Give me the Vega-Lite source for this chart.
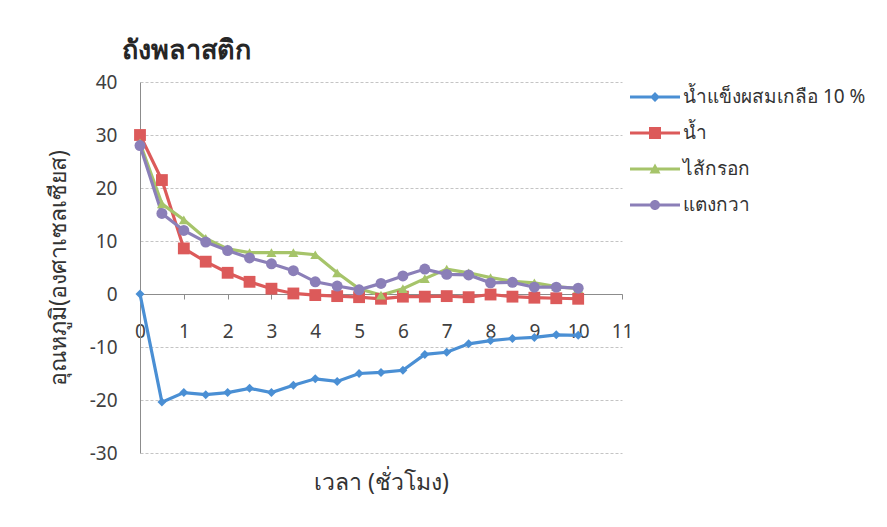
{
  "$schema": "https://vega.github.io/schema/vega-lite/v6.json",
  "width": 482,
  "height": 371,
  "autosize": {"type": "none"},
  "padding": {"left": 140, "top": 82, "right": 265, "bottom": 74},
  "background": "white",
  "title": {"text": "ถังพลาสติก", "anchor": "start", "frame": "group", "dx": -18, "offset": 8, "fontSize": 27, "fontWeight": "bold", "color": "#262626"},
  "config": {
    "view": {"stroke": null},
    "font": "Noto Sans, DejaVu Sans, sans-serif",
    "legend": {"title": null, "orient": "right", "offset": 3, "padding": 5, "symbolSize": 400, "symbolOpacity": 1, "symbolStrokeWidth": 0, "labelOffset": 33, "rowPadding": 16, "labelFontSize": 19, "labelColor": "#333333", "labelLimit": 300}
  },
  "data": {"values": [
    {"t": 0, "s": "น้ำแข็งผสมเกลือ 10 %", "v": 0},
    {"t": 0.5, "s": "น้ำแข็งผสมเกลือ 10 %", "v": -20.4},
    {"t": 1, "s": "น้ำแข็งผสมเกลือ 10 %", "v": -18.6},
    {"t": 1.5, "s": "น้ำแข็งผสมเกลือ 10 %", "v": -19.0},
    {"t": 2, "s": "น้ำแข็งผสมเกลือ 10 %", "v": -18.6},
    {"t": 2.5, "s": "น้ำแข็งผสมเกลือ 10 %", "v": -17.8},
    {"t": 3, "s": "น้ำแข็งผสมเกลือ 10 %", "v": -18.6},
    {"t": 3.5, "s": "น้ำแข็งผสมเกลือ 10 %", "v": -17.2},
    {"t": 4, "s": "น้ำแข็งผสมเกลือ 10 %", "v": -16.0},
    {"t": 4.5, "s": "น้ำแข็งผสมเกลือ 10 %", "v": -16.5},
    {"t": 5, "s": "น้ำแข็งผสมเกลือ 10 %", "v": -15.0},
    {"t": 5.5, "s": "น้ำแข็งผสมเกลือ 10 %", "v": -14.8},
    {"t": 6, "s": "น้ำแข็งผสมเกลือ 10 %", "v": -14.4},
    {"t": 6.5, "s": "น้ำแข็งผสมเกลือ 10 %", "v": -11.4},
    {"t": 7, "s": "น้ำแข็งผสมเกลือ 10 %", "v": -11.0},
    {"t": 7.5, "s": "น้ำแข็งผสมเกลือ 10 %", "v": -9.4},
    {"t": 8, "s": "น้ำแข็งผสมเกลือ 10 %", "v": -8.8},
    {"t": 8.5, "s": "น้ำแข็งผสมเกลือ 10 %", "v": -8.4},
    {"t": 9, "s": "น้ำแข็งผสมเกลือ 10 %", "v": -8.2},
    {"t": 9.5, "s": "น้ำแข็งผสมเกลือ 10 %", "v": -7.7},
    {"t": 10, "s": "น้ำแข็งผสมเกลือ 10 %", "v": -7.8},
    {"t": 0, "s": "น้ำ", "v": 30},
    {"t": 0.5, "s": "น้ำ", "v": 21.5},
    {"t": 1, "s": "น้ำ", "v": 8.6},
    {"t": 1.5, "s": "น้ำ", "v": 6.1},
    {"t": 2, "s": "น้ำ", "v": 4.0},
    {"t": 2.5, "s": "น้ำ", "v": 2.3},
    {"t": 3, "s": "น้ำ", "v": 1.0},
    {"t": 3.5, "s": "น้ำ", "v": 0.1},
    {"t": 4, "s": "น้ำ", "v": -0.2},
    {"t": 4.5, "s": "น้ำ", "v": -0.4},
    {"t": 5, "s": "น้ำ", "v": -0.6},
    {"t": 5.5, "s": "น้ำ", "v": -0.9},
    {"t": 6, "s": "น้ำ", "v": -0.5},
    {"t": 6.5, "s": "น้ำ", "v": -0.5},
    {"t": 7, "s": "น้ำ", "v": -0.4},
    {"t": 7.5, "s": "น้ำ", "v": -0.6},
    {"t": 8, "s": "น้ำ", "v": -0.1},
    {"t": 8.5, "s": "น้ำ", "v": -0.5},
    {"t": 9, "s": "น้ำ", "v": -0.7},
    {"t": 9.5, "s": "น้ำ", "v": -0.8},
    {"t": 10, "s": "น้ำ", "v": -0.9},
    {"t": 0, "s": "ไส้กรอก", "v": 28.5},
    {"t": 0.5, "s": "ไส้กรอก", "v": 17.0},
    {"t": 1, "s": "ไส้กรอก", "v": 14.0},
    {"t": 1.5, "s": "ไส้กรอก", "v": 10.5},
    {"t": 2, "s": "ไส้กรอก", "v": 8.5},
    {"t": 2.5, "s": "ไส้กรอก", "v": 7.8},
    {"t": 3, "s": "ไส้กรอก", "v": 7.8},
    {"t": 3.5, "s": "ไส้กรอก", "v": 7.8},
    {"t": 4, "s": "ไส้กรอก", "v": 7.4},
    {"t": 4.5, "s": "ไส้กรอก", "v": 4.0},
    {"t": 5, "s": "ไส้กรอก", "v": 1.0},
    {"t": 5.5, "s": "ไส้กรอก", "v": -0.2},
    {"t": 6, "s": "ไส้กรอก", "v": 1.0},
    {"t": 6.5, "s": "ไส้กรอก", "v": 2.9},
    {"t": 7, "s": "ไส้กรอก", "v": 4.7},
    {"t": 7.5, "s": "ไส้กรอก", "v": 4.0},
    {"t": 8, "s": "ไส้กรอก", "v": 3.1},
    {"t": 8.5, "s": "ไส้กรอก", "v": 2.4},
    {"t": 9, "s": "ไส้กรอก", "v": 2.1},
    {"t": 9.5, "s": "ไส้กรอก", "v": 1.4},
    {"t": 10, "s": "ไส้กรอก", "v": 1.0},
    {"t": 0, "s": "แตงกวา", "v": 28.0},
    {"t": 0.5, "s": "แตงกวา", "v": 15.2},
    {"t": 1, "s": "แตงกวา", "v": 12.0},
    {"t": 1.5, "s": "แตงกวา", "v": 9.8},
    {"t": 2, "s": "แตงกวา", "v": 8.2},
    {"t": 2.5, "s": "แตงกวา", "v": 6.8},
    {"t": 3, "s": "แตงกวา", "v": 5.7},
    {"t": 3.5, "s": "แตงกวา", "v": 4.4},
    {"t": 4, "s": "แตงกวา", "v": 2.3},
    {"t": 4.5, "s": "แตงกวา", "v": 1.5},
    {"t": 5, "s": "แตงกวา", "v": 0.8},
    {"t": 5.5, "s": "แตงกวา", "v": 2.0},
    {"t": 6, "s": "แตงกวา", "v": 3.4},
    {"t": 6.5, "s": "แตงกวา", "v": 4.7},
    {"t": 7, "s": "แตงกวา", "v": 3.7},
    {"t": 7.5, "s": "แตงกวา", "v": 3.6},
    {"t": 8, "s": "แตงกวา", "v": 2.1},
    {"t": 8.5, "s": "แตงกวา", "v": 2.2},
    {"t": 9, "s": "แตงกวา", "v": 1.3},
    {"t": 9.5, "s": "แตงกวา", "v": 1.3},
    {"t": 10, "s": "แตงกวา", "v": 1.1}
  ]},
  "encoding": {
    "x": {"field": "t", "type": "quantitative", "scale": {"domain": [0, 11], "nice": false},
      "axis": {"values": [0,1,2,3,4,5,6,7,8,9,10,11], "labelExpr": "'' + datum.value", "grid": false, "offset": -159, "tickSize": 5, "tickColor": "#8c8c8c", "domainColor": "#8c8c8c", "labelFontSize": 19, "labelColor": "#404040", "labelPadding": 23, "labelFlush": false, "labelOverlap": false, "title": "เวลา (ชั่วโมง)", "titleY": 188, "titleBaseline": "middle", "titleFontSize": 23, "titleFontWeight": "normal", "titleColor": "#333333"}},
    "y": {"field": "v", "type": "quantitative", "scale": {"domain": [-30, 40], "nice": false},
      "axis": {"values": [-30,-20,-10,0,10,20,30,40], "labelExpr": "'' + datum.value", "grid": true, "gridDash": [3, 2], "gridColor": "#c4c4c4", "ticks": false, "domainColor": "#8c8c8c", "labelFontSize": 19, "labelColor": "#404040", "labelPadding": 23, "title": "อุณหภูมิ(องศาเซลเซียส)", "titleFontSize": 23, "titleFontWeight": "normal", "titleColor": "#333333", "titleX": -82, "titleBaseline": "middle"}},
    "color": {"field": "s", "type": "nominal",
      "scale": {"domain": ["น้ำแข็งผสมเกลือ 10 %", "น้ำ", "ไส้กรอก", "แตงกวา"], "range": ["#4a8fd4", "#dc5a5a", "#a6c46a", "#8b7fb8"]},
      "legend": null}
  },
  "layer": [
    {"mark": {"type": "line", "strokeWidth": 3.2}},
    {"transform": [{"filter": "datum.s === 'น้ำแข็งผสมเกลือ 10 %'"}], "mark": {"type": "point", "filled": true, "opacity": 1, "shape": "diamond", "size": 80}},
    {"transform": [{"filter": "datum.s === 'น้ำ'"}], "mark": {"type": "point", "filled": true, "opacity": 1, "shape": "square", "size": 140}},
    {"transform": [{"filter": "datum.s === 'ไส้กรอก'"}], "mark": {"type": "point", "filled": true, "opacity": 1, "shape": "triangle-up", "size": 100}},
    {"transform": [{"filter": "datum.s === 'แตงกวา'"}], "mark": {"type": "point", "filled": true, "opacity": 1, "shape": "circle", "size": 120}},
    {"mark": {"type": "point", "filled": true, "opacity": 0, "size": 400},
      "encoding": {
        "color": {"field": "s", "type": "nominal", "legend": {}},
        "shape": {"field": "s", "type": "nominal",
          "scale": {"domain": ["น้ำแข็งผสมเกลือ 10 %", "น้ำ", "ไส้กรอก", "แตงกวา"],
            "range": [
              "M-1,-0.15L4,-0.15L4,0.15L-1,0.15Z M1.5,-0.5L2,0L1.5,0.5L1,0Z",
              "M-1,-0.15L4,-0.15L4,0.15L-1,0.15Z M0.9,-0.6L2.1,-0.6L2.1,0.6L0.9,0.6Z",
              "M-1,-0.15L4,-0.15L4,0.15L-1,0.15Z M1.5,-0.55L2.05,0.45L0.95,0.45Z",
              "M-1,-0.15L4,-0.15L4,0.15L-1,0.15Z M1,0A0.5,0.5 0 1,1 2,0A0.5,0.5 0 1,1 1,0Z"
            ]},
          "legend": {}}
      }}
  ],
  "resolve": {"legend": {"color": "independent", "shape": "independent"}}
}
